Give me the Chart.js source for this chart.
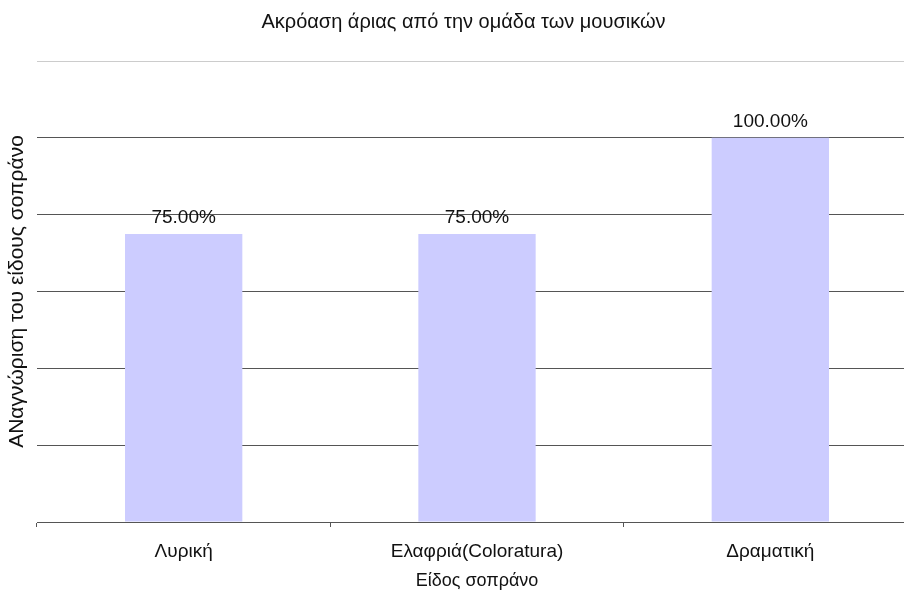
<!DOCTYPE html>
<html>
<head>
<meta charset="utf-8">
<script src="https://cdn.jsdelivr.net/npm/chart.js@4/dist/chart.umd.min.js"></script>
<style>
html,body{margin:0;padding:0;overflow:hidden;background:#fff;width:904px;height:590px;}
#wrap{width:927px;height:590px;}
</style>
</head>
<body>
<div id="wrap"><canvas id="c" width="927" height="590"></canvas></div>
<script>
const categories = ["Λυρική", "Ελαφριά(Coloratura)", "Δραματική"];
const values = [75, 75, 100];
const valueLabels = ["75.00%", "75.00%", "100.00%"];
const chartTitle = "Ακρόαση άριας από την ομάδα των μουσικών";
const xTitle = "Είδος σοπράνο";
const yTitle = "ΑΝαγνώριση του είδους σοπράνο";

const FONT = "'Liberation Sans', Arial, sans-serif";

const valueLabelPlugin = {
  id: 'valueLabels',
  afterDatasetsDraw(chart) {
    const ctx = chart.ctx;
    const meta = chart.getDatasetMeta(0);
    ctx.save();
    ctx.font = "19px " + FONT;
    ctx.fillStyle = "#111";
    ctx.textAlign = "center";
    ctx.textBaseline = "middle";
    meta.data.forEach((bar, i) => {
      ctx.fillText(valueLabels[i], bar.x, bar.y - 16);
    });
    ctx.restore();
  }
};

new Chart(document.getElementById('c'), {
  type: 'bar',
  data: {
    labels: categories,
    datasets: [{
      data: values,
      backgroundColor: '#ccccff',
      borderWidth: 0,
      categoryPercentage: 1.0,
      barPercentage: 0.4
    }]
  },
  plugins: [valueLabelPlugin],
  options: {
    responsive: false,
    animation: false,
    devicePixelRatio: 1,
    layout: { padding: { left: 10, right: 10, top: 0, bottom: 0 } },
    plugins: {
      legend: { display: false },
      tooltip: { enabled: false },
      title: {
        display: true,
        text: chartTitle,
        color: '#111',
        font: { family: FONT, size: 20, weight: 'normal' },
        padding: { top: 10, bottom: 27 }
      }
    },
    scales: {
      x: {
        offset: true,
        grid: {
          offset: true,
          drawOnChartArea: false,
          drawTicks: true,
          tickLength: 5,
          color: '#555'
        },
        border: { display: true, color: '#555', width: 1 },
        ticks: {
          color: '#111',
          font: { family: FONT, size: 19 },
          padding: 13,
          maxRotation: 0
        },
        title: {
          display: true,
          text: xTitle,
          color: '#111',
          font: { family: FONT, size: 18 },
          padding: { top: 12, bottom: -2 }
        },
        afterFit(scale) { scale.height = 68; }
      },
      y: {
        min: 0,
        max: 120,
        ticks: { display: false, stepSize: 20 },
        grid: {
          drawTicks: false,
          color: (ctx) => (ctx.tick && ctx.tick.value === 120) ? '#cccccc' : '#555555',
          lineWidth: 1
        },
        border: { display: false },
        title: {
          display: true,
          text: yTitle,
          color: '#111',
          font: { family: FONT, size: 21 },
          padding: { top: -5, bottom: 0 }
        },
        afterFit(scale) { scale.width = 27; }
      }
    }
  }
});
</script>
</body>
</html>
